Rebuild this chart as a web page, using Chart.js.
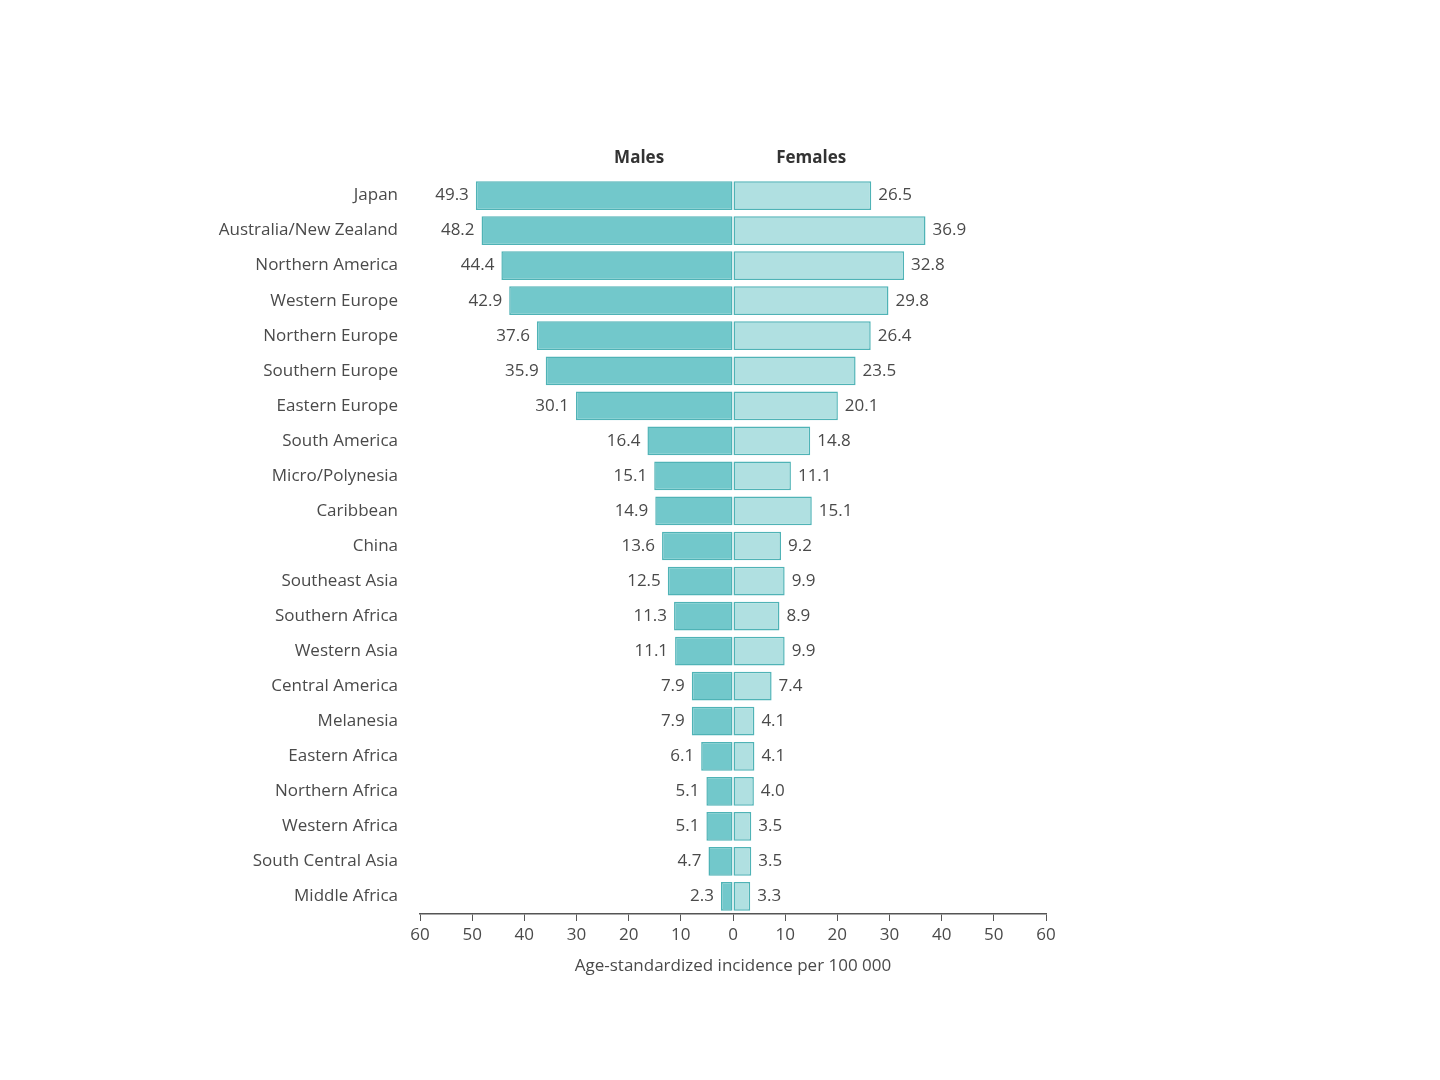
<!DOCTYPE html>
<html>
<head>
<meta charset="utf-8">
<script src="https://cdn.jsdelivr.net/npm/chart.js@4"></script>
<style>
  body { margin: 0; background: #fff; }
  canvas { display: block; }
</style>
</head>
<body>
<canvas id="chart" width="1440" height="1080"></canvas>
<script>
// data
const regions = ['Japan', 'Australia/New Zealand', 'Northern America', 'Western Europe', 'Northern Europe',
  'Southern Europe', 'Eastern Europe', 'South America', 'Micro/Polynesia', 'Caribbean', 'China',
  'Southeast Asia', 'Southern Africa', 'Western Asia', 'Central America', 'Melanesia', 'Eastern Africa',
  'Northern Africa', 'Western Africa', 'South Central Asia', 'Middle Africa'];
const males = [49.3, 48.2, 44.4, 42.9, 37.6, 35.9, 30.1, 16.4, 15.1, 14.9, 13.6, 12.5, 11.3, 11.1, 7.9, 7.9, 6.1, 5.1, 5.1, 4.7, 2.3];
const females = [26.5, 36.9, 32.8, 29.8, 26.4, 23.5, 20.1, 14.8, 11.1, 15.1, 9.2, 9.9, 8.9, 9.9, 7.4, 4.1, 4.1, 4.0, 3.5, 3.5, 3.3];

const FONT = '"Open Sans", sans-serif';
const TEXT = '#4a4a4a';

// value labels next to each bar end + the Males/Females heads
const labelPlugin = {
  id: 'labels',
  afterDatasetsDraw(chart) {
    const ctx = chart.ctx;
    ctx.save();
    ctx.font = '17px ' + FONT;
    ctx.fillStyle = TEXT;
    ctx.textBaseline = 'middle';
    chart.data.datasets.forEach((ds, di) => {
      chart.getDatasetMeta(di).data.forEach((bar, i) => {
        const v = Math.abs(ds.data[i]).toFixed(1);
        if (di === 0) { ctx.textAlign = 'right'; ctx.fillText(v, bar.x - 7, bar.y); }
        else { ctx.textAlign = 'left'; ctx.fillText(v, bar.x + 7, bar.y); }
      });
    });
    ctx.font = 'bold 17px ' + FONT;
    ctx.fillStyle = '#333';
    ctx.textAlign = 'center';
    const xs = chart.scales.x;
    ctx.fillText('Males', xs.getPixelForValue(-18), 158);
    ctx.fillText('Females', xs.getPixelForValue(15), 158);
    ctx.restore();
  }
};

new Chart(document.getElementById('chart'), {
  type: 'bar',
  data: {
    labels: regions,
    datasets: [
      { label: 'Males', data: males.map(v => -v), backgroundColor: '#72c8cb', borderColor: '#4fb3b6', borderWidth: 1.5, borderSkipped: false },
      { label: 'Females', data: females, backgroundColor: '#b0e0e1', borderColor: '#4fb3b6', borderWidth: 1.5, borderSkipped: false }
    ]
  },
  options: {
    indexAxis: 'y',
    responsive: false,
    animation: false,
    layout: { padding: { top: 178, right: 394, bottom: 100, left: 0 } },
    datasets: { bar: { categoryPercentage: 1, barPercentage: 0.82 } },
    plugins: { legend: { display: false }, tooltip: { enabled: false } },
    scales: {
      x: {
        stacked: true,
        min: -60, max: 60,
        afterFit: s => { s.height = 66; },
        ticks: { stepSize: 10, color: TEXT, font: { family: FONT, size: 17 }, padding: 4, callback: v => Math.abs(v) },
        grid: { drawOnChartArea: false, drawTicks: true, tickLength: 7, color: '#555' },
        border: { color: '#555', width: 1.5 },
        title: { display: true, text: 'Age-standardized incidence per 100 000', color: TEXT, font: { family: FONT, size: 17 }, padding: { top: 0 } }
      },
      y: {
        stacked: true,
        afterFit: s => { s.width = 420; },
        ticks: { color: TEXT, font: { family: FONT, size: 17 }, padding: 14 },
        grid: { display: false },
        border: { display: false }
      }
    }
  },
  plugins: [labelPlugin]
});
</script>
</body>
</html>
